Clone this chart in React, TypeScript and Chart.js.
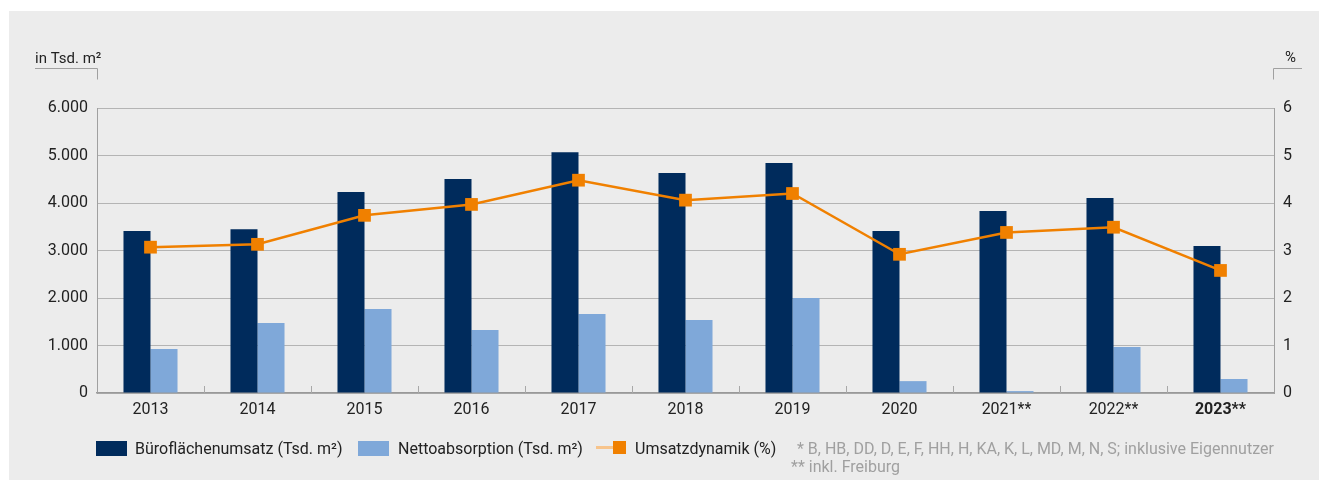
import React, { useEffect, useRef } from 'react';
import { Chart, registerables } from 'chart.js';

Chart.register(...registerables);

const categories = ['2013', '2014', '2015', '2016', '2017', '2018', '2019', '2020', '2021**', '2022**', '2023**'];
const bueroflaechenumsatz = [3410, 3450, 4230, 4505, 5070, 4630, 4840, 3410, 3830, 4105, 3095];
const nettoabsorption = [925, 1475, 1770, 1325, 1665, 1535, 2000, 250, 40, 970, 295];
const umsatzdynamik = [3.07, 3.13, 3.74, 3.97, 4.48, 4.06, 4.2, 2.92, 3.38, 3.49, 2.58];
const leftTickLabels = ['0', '1.000', '2.000', '3.000', '4.000', '5.000', '6.000'];
const rightTickLabels = ['0', '1', '2', '3', '4', '5', '6'];
const leftAxisTitle = 'in Tsd. m²';
const rightAxisTitle = '%';
const legendLabels = ['Büroflächenumsatz (Tsd. m²)', 'Nettoabsorption (Tsd. m²)', 'Umsatzdynamik (%)'];
const footnotes = ['* B, HB, DD, D, E, F, HH, H, KA, K, L, MD, M, N, S; inklusive Eigennutzer', '** inkl. Freiburg'];

const DARK = '#002b5c';
const LIGHT = '#7fa8d9';
const ORANGE = '#f08000';
const FONT = 'Roboto, "Noto Sans", sans-serif';

const decorPlugin = {
  id: 'decor',
  afterDraw(chart: any) {
    const { ctx, chartArea: a, scales } = chart;
    const x = scales.x;
    ctx.save();
    ctx.strokeStyle = '#a8a8a8';
    ctx.lineWidth = 1;
    ctx.beginPath();
    for (let i = 1; i < categories.length; i++) {
      const px = Math.round((x.getPixelForValue(i - 1) + x.getPixelForValue(i)) / 2) + 0.5;
      ctx.moveTo(px, a.bottom);
      ctx.lineTo(px, a.bottom - 7);
    }
    ctx.stroke();
    ctx.strokeStyle = '#a0a0a0';
    ctx.beginPath();
    const by = 57.5;
    const lx = Math.round(a.left) + 0.5;
    const rx = Math.round(a.right) - 0.5;
    ctx.moveTo(26, by);
    ctx.lineTo(lx, by);
    ctx.lineTo(lx, by + 11);
    ctx.moveTo(1293, by);
    ctx.lineTo(rx, by);
    ctx.lineTo(rx, by + 11);
    ctx.stroke();
    ctx.fillStyle = '#222';
    ctx.font = '15px ' + FONT;
    ctx.textBaseline = 'alphabetic';
    ctx.textAlign = 'left';
    ctx.fillText(leftAxisTitle, 26, 52);
    ctx.fillText(rightAxisTitle, 1276, 51);
    ctx.restore();
  },
};

export default function App() {
  const ref = useRef<HTMLCanvasElement>(null);
  useEffect(() => {
    if (!ref.current) return;
    Chart.defaults.font.family = FONT;
    Chart.defaults.font.size = 16;
    Chart.defaults.color = '#222';
    const chart = new Chart(ref.current, {
      type: 'bar',
      data: {
        labels: categories,
        datasets: [
          {
            type: 'line',
            label: legendLabels[2],
            data: umsatzdynamik,
            yAxisID: 'y2',
            borderColor: ORANGE,
            borderWidth: 2.5,
            backgroundColor: ORANGE,
            pointStyle: 'rect',
            pointRadius: 9,
            pointHoverRadius: 9,
            pointBackgroundColor: ORANGE,
            pointBorderWidth: 0,
            tension: 0,
            order: 0,
          } as any,
          {
            type: 'bar',
            label: legendLabels[0],
            data: bueroflaechenumsatz,
            yAxisID: 'y',
            backgroundColor: DARK,
            categoryPercentage: 0.505,
            barPercentage: 1,
            order: 1,
          },
          {
            type: 'bar',
            label: legendLabels[1],
            data: nettoabsorption,
            yAxisID: 'y',
            backgroundColor: LIGHT,
            categoryPercentage: 0.505,
            barPercentage: 1,
            order: 1,
          },
        ],
      },
      options: {
        animation: false,
        responsive: false,
        devicePixelRatio: 1,
        layout: { padding: { top: 97, left: 0, right: 0, bottom: 0 } },
        plugins: { legend: { display: false }, tooltip: { enabled: false } },
        scales: {
          x: {
            grid: { display: false, drawTicks: false },
            border: { display: true, color: '#999', width: 1.5 },
            ticks: {
              padding: 7,
              color: '#222',
              font: (c: any) => ({ size: 16, family: FONT, weight: c.index === categories.length - 1 ? 'bold' : 'normal' }),
            },
            afterFit: (s: any) => { s.height = 87; },
          },
          y: {
            position: 'left',
            min: 0,
            max: 6000,
            ticks: { stepSize: 1000, padding: 9, color: '#222', font: { size: 16 }, callback: (_v: any, i: number) => leftTickLabels[i] },
            grid: { color: '#b4b4b4', lineWidth: 1, drawTicks: false },
            border: { display: true, color: '#a0a0a0', width: 1 },
            afterFit: (s: any) => { s.width = 88; },
          },
          y2: {
            position: 'right',
            min: 0,
            max: 6,
            ticks: { stepSize: 1, padding: 9, color: '#222', font: { size: 16 }, callback: (_v: any, i: number) => rightTickLabels[i] },
            grid: { display: false, drawTicks: false },
            border: { display: true, color: '#a0a0a0', width: 1 },
            afterFit: (s: any) => { s.width = 45; },
          },
        },
      },
      plugins: [decorPlugin],
    });
    return () => chart.destroy();
  }, []);

  const textStyle: React.CSSProperties = {
    position: 'absolute',
    fontFamily: FONT,
    fontSize: 16,
    lineHeight: '15px',
    color: '#222',
    whiteSpace: 'nowrap',
  };

  return (
    <div style={{ position: 'fixed', left: 9, top: 11, width: 1310, height: 469, background: '#ececec' }}>
      <canvas ref={ref} width={1310} height={469} style={{ position: 'absolute', left: 0, top: 0 }} />
      <div style={{ position: 'absolute', left: 87, top: 430, width: 31, height: 15, background: DARK }} />
      <div style={{ ...textStyle, left: 126, top: 430 }}>{legendLabels[0]}</div>
      <div style={{ position: 'absolute', left: 349, top: 430, width: 31, height: 15, background: LIGHT }} />
      <div style={{ ...textStyle, left: 389, top: 430 }}>{legendLabels[1]}</div>
      <div style={{ position: 'absolute', left: 587, top: 435, width: 18, height: 3, background: '#f7c48c' }} />
      <div style={{ position: 'absolute', left: 604, top: 430, width: 13, height: 13, background: ORANGE }} />
      <div style={{ ...textStyle, left: 626, top: 430 }}>{legendLabels[2]}</div>
      <div style={{ ...textStyle, left: 788, top: 430, color: '#a0a0a0' }}>{footnotes[0]}</div>
      <div style={{ ...textStyle, left: 782, top: 448, color: '#a0a0a0' }}>{footnotes[1]}</div>
    </div>
  );
}
